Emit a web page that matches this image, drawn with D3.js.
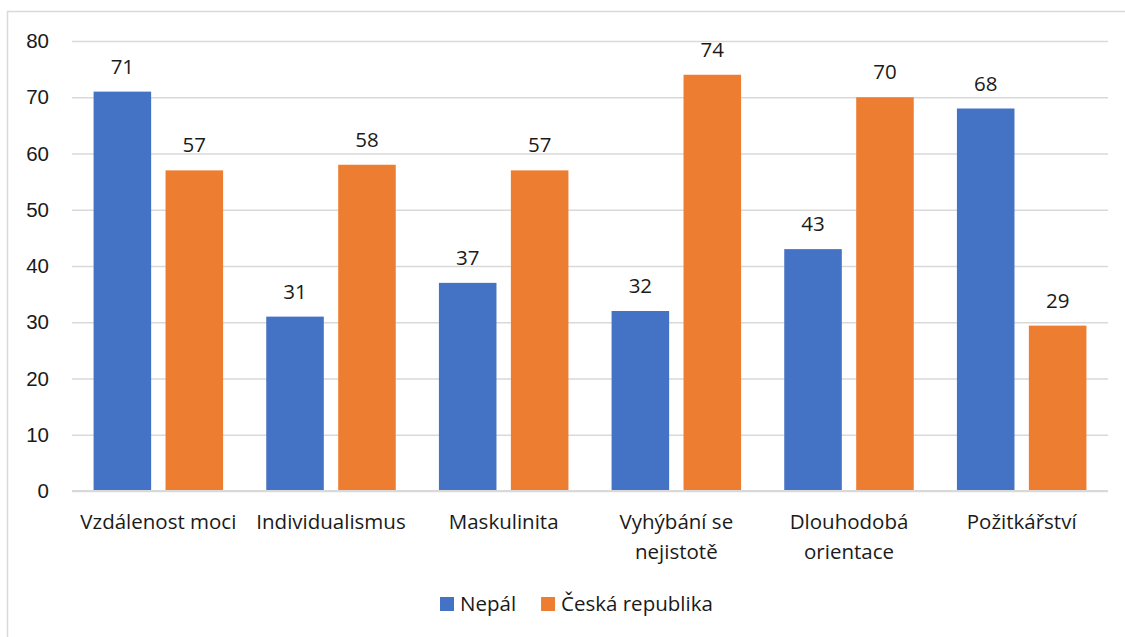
<!DOCTYPE html>
<html>
<head>
<meta charset="utf-8">
<script src="https://cdn.jsdelivr.net/npm/d3@7"></script>
<style>
  html, body { margin: 0; padding: 0; background: #fff; }
  svg { display: block; font-family: "Open Sans", "Noto Sans", sans-serif; }
</style>
</head>
<body>
<svg id="chart"></svg>
<script>
const categories = ["Vzdálenost moci", "Individualismus", "Maskulinita", "Vyhýbání se nejistotě", "Dlouhodobá orientace", "Požitkářství"];
const seriesNames = ["Nepál", "Česká republika"];
const nepal = [71, 31, 37, 32, 43, 68];
const czech = [57, 58, 57, 74, 70, 29.4];
const yTicks = [0, 10, 20, 30, 40, 50, 60, 70, 80];

const colors = d3.scaleOrdinal().domain(seriesNames).range(["#4472C4", "#ED7D31"]);
const fontSize = "20.5px";

const width = 1125, height = 637;
const margin = { top: 41, right: 17, bottom: 146, left: 72 };
const plotW = width - margin.left - margin.right;
const plotH = height - margin.top - margin.bottom;

const svg = d3.select("#chart").attr("width", width).attr("height", height);

// cadre du graphique
svg.append("path")
    .attr("d", `M7.5,${height + 2}V11.5H${width + 2}`)
    .attr("fill", "none")
    .attr("stroke", "#d9d9d9")
    .attr("stroke-width", 1.5);

const g = svg.append("g").attr("transform", `translate(${margin.left},${margin.top})`);

const x0 = d3.scaleBand().domain(categories).range([0, plotW]).padding(0);
const outer = x0.bandwidth() * 0.125;
const x1 = d3.scaleBand().domain(seriesNames).range([outer, x0.bandwidth() - outer]).paddingInner(0.2).paddingOuter(0);
const y = d3.scaleLinear().domain([0, 80]).range([plotH, 0]);

// grille
g.append("g")
    .call(d3.axisLeft(y).tickValues(yTicks).tickSize(-plotW).tickFormat(d => d).tickPadding(23))
    .call(ax => ax.select(".domain").remove())
    .call(ax => ax.selectAll(".tick line").attr("stroke", "#d9d9d9").attr("stroke-width", 1.5))
    .call(ax => ax.selectAll(".tick text").attr("fill", "#1a1a1a").style("font-size", fontSize));

// données regroupées
const rows = categories.map((c, i) => ({ cat: c, values: [
    { key: seriesNames[0], value: nepal[i] },
    { key: seriesNames[1], value: czech[i] }
] }));

const groups = g.selectAll("g.cat")
    .data(rows)
    .enter()
    .append("g")
    .attr("class", "cat")
    .attr("transform", d => `translate(${x0(d.cat)},0)`);

groups.selectAll("rect")
    .data(d => d.values)
    .enter()
    .append("rect")
    .attr("x", d => x1(d.key))
    .attr("y", d => y(d.value))
    .attr("width", x1.bandwidth())
    .attr("height", d => plotH - y(d.value))
    .attr("fill", d => colors(d.key));

groups.selectAll("text.val")
    .data(d => d.values)
    .enter()
    .append("text")
    .attr("class", "val")
    .attr("x", d => x1(d.key) + x1.bandwidth() / 2)
    .attr("y", d => y(d.value) - 18)
    .attr("text-anchor", "middle")
    .attr("fill", "#1a1a1a")
    .style("font-size", fontSize)
    .text(d => Math.round(d.value));

// axe du bas (ligne zéro)
g.append("line")
    .attr("x1", 0).attr("x2", plotW)
    .attr("y1", plotH).attr("y2", plotH)
    .attr("stroke", "#d9d9d9")
    .attr("stroke-width", 2);

// libellés des catégories avec retour à la ligne
function wrapLines(text, maxW, probe) {
    const words = text.split(" ");
    const lines = [];
    let line = [];
    words.forEach(w => {
        const test = line.concat(w).join(" ");
        probe.text(test);
        if (probe.node().getComputedTextLength() > maxW && line.length) {
            lines.push(line.join(" "));
            line = [w];
        } else {
            line.push(w);
        }
    });
    lines.push(line.join(" "));
    return lines;
}

const probe = svg.append("text").style("font-size", fontSize).attr("visibility", "hidden");
categories.forEach(c => {
    const lines = wrapLines(c, 168, probe);
    const t = g.append("text")
        .attr("text-anchor", "middle")
        .attr("fill", "#1a1a1a")
        .style("font-size", fontSize)
        .attr("transform", `translate(${x0(c) + x0.bandwidth() / 2},${plotH + 38})`);
    lines.forEach((l, i) => t.append("tspan").attr("x", 0).attr("y", i * 30).text(l));
});
probe.remove();

// légende
const legend = svg.append("g").attr("transform", `translate(440,597)`);
let lx = 0;
seriesNames.forEach(s => {
    const item = legend.append("g").attr("transform", `translate(${lx},0)`);
    item.append("rect").attr("width", 14).attr("height", 14).attr("fill", colors(s));
    const t = item.append("text")
        .attr("x", 20).attr("y", 14)
        .attr("fill", "#1a1a1a")
        .style("font-size", fontSize)
        .text(s);
    lx += 20 + t.node().getComputedTextLength() + 25;
});
</script>
</body>
</html>
